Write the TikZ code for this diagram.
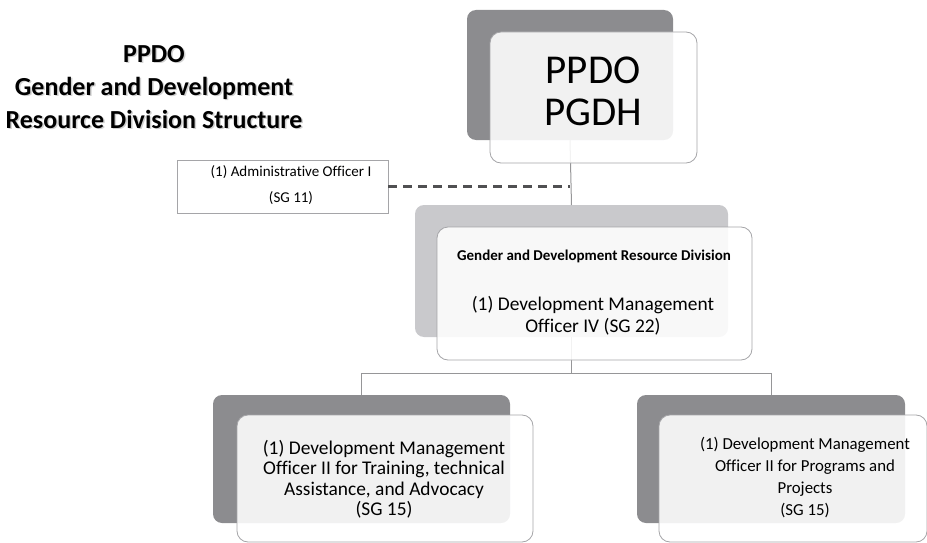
\documentclass[tikz,border=0pt]{standalone}
\usepackage{fontspec}
\setmainfont[Ligatures=NoCommon]{Carlito}
\begin{document}
\begin{tikzpicture}[x=1pt,y=-1pt,
  graybox/.style={draw=none,rounded corners=9pt,inner sep=0pt,outer sep=0pt},
  darkbox/.style={graybox,fill=gdark},
  lightbox/.style={graybox,fill=glight},
  whitebox/.style={draw=bordergray,line width=0.8pt,fill=white,fill opacity=0.88,rounded corners=11pt,inner sep=0pt,outer sep=0pt},
  conn/.style={draw=linegray,line width=1pt},
  txt/.style={align=center,inner sep=0pt,text=black}]
\definecolor{gdark}{RGB}{140,140,143}
\definecolor{glight}{RGB}{201,201,204}
\definecolor{bordergray}{RGB}{165,165,168}
\definecolor{linegray}{RGB}{150,150,152}
\definecolor{dashgray}{RGB}{80,80,82}
\useasboundingbox (0,0) rectangle (927,543);
\begin{scope}
\clip (0,0) rectangle (927,543);
% gray back boxes
\node[darkbox,minimum width=206pt,minimum height=130pt] (gtop) at (570,75) {};
\node[lightbox,minimum width=313pt,minimum height=132pt] (gmid) at (571.5,271) {};
\node[darkbox,minimum width=297pt,minimum height=128pt] (gleft) at (361.5,459) {};
\node[darkbox,minimum width=268pt,minimum height=128pt] (gright) at (771,459) {};
% admin box
\node[draw=bordergray,line width=0.8pt,fill=white,minimum width=211pt,minimum height=53pt,inner sep=0pt,outer sep=0pt] (admin) at (282.5,186.5) {};
% connectors
\coordinate (dashend) at (gtop.south |- admin.east);
\coordinate (split) at (571.5,373);
\draw[conn] (gtop.south) -- (gmid.north);
\draw[dashgray,line width=2.8pt,dash pattern=on 9pt off 6pt] (admin.east) -- (dashend);
\draw[conn] (gmid.south) -- (split);
\draw[conn] (split) -| (gleft.north);
\draw[conn] (split) -| (gright.north);
% white front boxes
\node[whitebox,minimum width=207pt,minimum height=131pt] (wtop) at (593.5,97.5) {};
\node[whitebox,minimum width=315pt,minimum height=133pt] (wmid) at (594.5,293.5) {};
\node[whitebox,minimum width=296pt,minimum height=127pt] (wleft) at (385,478.5) {};
\node[whitebox,minimum width=268pt,minimum height=127pt] (wright) at (793,478.5) {};
\end{scope}
% texts
\node[txt,font=\fontsize{41}{42}\selectfont] (ttop) at (593,91) {PPDO\\PGDH};
\node[txt,font=\fontsize{15}{18}\bfseries] (tmidhead) at (594,256) {Gender and Development Resource Division};
\node[txt,font=\fontsize{19.4}{22}\selectfont] (tmid) at (593,316) {(1) Development Management\\Officer IV (SG 22)};
\node[txt,font=\fontsize{19.4}{20.5}\selectfont] (tleft) at (384,479) {(1) Development Management\\Officer II for Training, technical\\Assistance, and Advocacy\\(SG 15)};
\node[txt,font=\fontsize{16.8}{22}\selectfont] (tright) at (805,478) {(1) Development Management\\Officer II for Programs and\\Projects\\(SG 15)};
\node[txt,font=\fontsize{15}{26}\selectfont] (tadmin) at (291,185) {(1) Administrative Officer I\\(SG 11)};
% title with soft shadow
\node[txt,font=\fontsize{26}{33}\bfseries,text=gray!60,opacity=0.6] (titleshadow) at (155.5,88.5) {PPDO\\Gender and Development\\Resource Division Structure};
\node[txt,font=\fontsize{26}{33}\bfseries] (title) at (154,87) {PPDO\\Gender and Development\\Resource Division Structure};
\end{tikzpicture}
\end{document}
